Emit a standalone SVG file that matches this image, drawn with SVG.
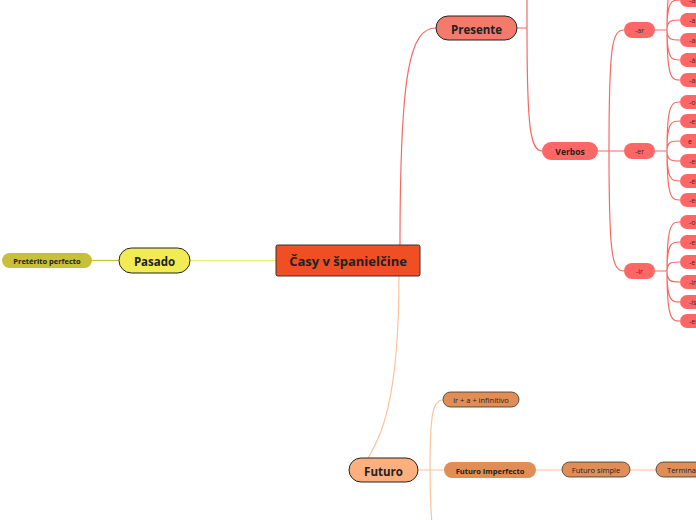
<svg xmlns="http://www.w3.org/2000/svg" width="696" height="520" viewBox="0 0 696 520">
<style>
text{font-family:"Open Sans","Noto Sans","DejaVu Sans",sans-serif;text-anchor:middle;dominant-baseline:central;fill:#222}
.b{font-weight:bold}
.red{fill:none;stroke:#F56A63;stroke-width:1.2}
.org{fill:none;stroke:#FDC29C;stroke-width:1.2}
.leaf{fill:#FF6666}
.lt{font-size:7px;text-anchor:start;fill:#4a2020}
.mt{font-size:7px;fill:#4a2020}
</style>
<g id="connectors">
<path d="M190,260.5 H276" fill="none" stroke="#F3EE78" stroke-width="1.2"/>
<path d="M92,260.5 H119" fill="none" stroke="#C8C03A" stroke-width="1.2"/>
<path class="red" d="M400,245 C400,70 410,28 436,28"/>
<path class="org" d="M399,276 C399,410 378,440 368,458"/>
<path class="red" d="M517,28 H527 M527,28 V-10 M527,28 C527,125 530,151 542,151"/>
<path class="red" d="M598,151 H624 M609,151 C609,45 612,30 624,30 M609,151 C609,256 612,271 624,271"/>
<path class="red" d="M655,30 H667 M667,30 C667,-20 672,-20 680,-20 M667,30 C667,0 672,0 680,0 M667,30 C667,20 672,20 680,20 M667,30 C667,40 672,40 680,40 M667,30 C667,60 672,60 680,60 M667,30 C667,80 672,80 680,80"/>
<path class="red" d="M655,151 H667 M667,151 C667,102 672,102 680,102 M667,151 C667,121 672,121 680,121 M667,151 C667,141 672,141 680,141 M667,151 C667,161 672,161 680,161 M667,151 C667,181 672,181 680,181 M667,151 C667,200 672,200 680,200"/>
<path class="red" d="M655,271 H667 M667,271 C667,222 672,222 680,222 M667,271 C667,242 672,242 680,242 M667,271 C667,262 672,262 680,262 M667,271 C667,282 672,282 680,282 M667,271 C667,302 672,302 680,302 M667,271 C667,321 672,321 680,321"/>
<path class="org" d="M418,470 H444 M430,470 C430,412 433,400 443,400 M430,470 C430,500 431,510 432,525"/>
<path class="org" d="M536,470 H562 M630,470 H656"/>
</g>
<g id="central"><rect x="276" y="245" width="144" height="31" rx="1.5" fill="#F04E23" stroke="#333" stroke-width="1"/><text class="b" x="348" y="261" font-size="13">Časy v španielčine</text></g>
<g id="pasado"><rect x="119" y="248" width="71" height="25" rx="12.5" fill="#F2EB55" stroke="#222" stroke-width="1"/><text class="b" x="154.5" y="261" font-size="11.5">Pasado</text></g>
<g id="preterito"><rect x="2" y="253" width="90" height="15" rx="7.5" fill="#C8C03A"/><text class="b" x="47" y="261" font-size="7.5">Pretérito perfecto</text></g>
<g id="presente"><rect x="436" y="16" width="81" height="24" rx="12" fill="#F47A6C" stroke="#222" stroke-width="1"/><text class="b" x="476.5" y="29" font-size="11.5">Presente</text></g>
<g id="verbos"><rect x="542" y="142" width="56" height="18" rx="9" class="leaf"/><text class="b" x="570" y="151.5" font-size="8.5">Verbos</text></g>
<g id="ar"><rect x="624" y="22" width="31" height="16" rx="8" class="leaf"/><text class="mt" x="639.5" y="30.5">-ar</text></g>
<g id="er"><rect x="624" y="143" width="31" height="16" rx="8" class="leaf"/><text class="mt" x="639.5" y="151.5">-er</text></g>
<g id="ir"><rect x="624" y="263" width="31" height="16" rx="8" class="leaf"/><text class="mt" x="639.5" y="271.5">-ir</text></g>
<g id="ar-leaves">
<rect x="680" y="-27" width="40" height="14" rx="7" class="leaf"/>
<rect x="680" y="-7" width="40" height="14" rx="7" class="leaf"/><text class="lt" x="689" y="0.5">-as</text>
<rect x="680" y="13" width="40" height="14" rx="7" class="leaf"/><text class="lt" x="689" y="20.5">-a</text>
<rect x="680" y="33" width="40" height="14" rx="7" class="leaf"/><text class="lt" x="689" y="40.5">-amos</text>
<rect x="680" y="53" width="40" height="14" rx="7" class="leaf"/><text class="lt" x="689" y="60.5">-áis</text>
<rect x="680" y="73" width="40" height="14" rx="7" class="leaf"/><text class="lt" x="689" y="80.5">-an</text>
</g>
<g id="er-leaves">
<rect x="680" y="95" width="40" height="14" rx="7" class="leaf"/><text class="lt" x="689" y="102.5">-o</text>
<rect x="680" y="114" width="40" height="14" rx="7" class="leaf"/><text class="lt" x="689" y="121.5">-es</text>
<rect x="680" y="134" width="40" height="14" rx="7" class="leaf"/><text class="lt" x="688" y="141.5">e</text>
<rect x="680" y="154" width="40" height="14" rx="7" class="leaf"/><text class="lt" x="689" y="161.5">-emos</text>
<rect x="680" y="174" width="40" height="14" rx="7" class="leaf"/><text class="lt" x="689" y="181.5">-éis</text>
<rect x="680" y="193" width="40" height="14" rx="7" class="leaf"/><text class="lt" x="689" y="200.5">-en</text>
</g>
<g id="ir-leaves">
<rect x="680" y="215" width="40" height="14" rx="7" class="leaf"/><text class="lt" x="689" y="222.5">-o</text>
<rect x="680" y="235" width="40" height="14" rx="7" class="leaf"/><text class="lt" x="689" y="242.5">-es</text>
<rect x="680" y="255" width="40" height="14" rx="7" class="leaf"/><text class="lt" x="689" y="262.5">-e</text>
<rect x="680" y="275" width="40" height="14" rx="7" class="leaf"/><text class="lt" x="689" y="282.5">-imos</text>
<rect x="680" y="295" width="40" height="14" rx="7" class="leaf"/><text class="lt" x="689" y="302.5">-ís</text>
<rect x="680" y="314" width="40" height="14" rx="7" class="leaf"/><text class="lt" x="689" y="321.5">-en</text>
</g>
<g id="futuro"><rect x="349" y="458" width="69" height="24" rx="12" fill="#FDB07E" stroke="#222" stroke-width="1"/><text class="b" x="383.5" y="471" font-size="11.5">Futuro</text></g>
<g id="ir-a-inf"><rect x="443" y="392" width="76" height="15" rx="7.5" fill="#E08E55" stroke="#333" stroke-width="0.8"/><text x="481" y="400" font-size="7.5" fill="#3a2010">ir + a + infinitivo</text></g>
<g id="futuro-imperfecto"><rect x="444" y="462" width="92" height="16" rx="8" fill="#E08E55"/><text class="b" x="490" y="470.5" font-size="7.5">Futuro Imperfecto</text></g>
<g id="futuro-simple"><rect x="562" y="462" width="68" height="15" rx="7.5" fill="#E08E55" stroke="#333" stroke-width="0.8"/><text x="596" y="470" font-size="7.5" fill="#3a2010">Futuro simple</text></g>
<g id="terminaciones"><rect x="656" y="462" width="80" height="15" rx="7.5" fill="#E08E55" stroke="#333" stroke-width="0.8"/><text x="667" y="470" font-size="7.5" fill="#3a2010" style="text-anchor:start">Terminaciones</text></g>
</svg>
